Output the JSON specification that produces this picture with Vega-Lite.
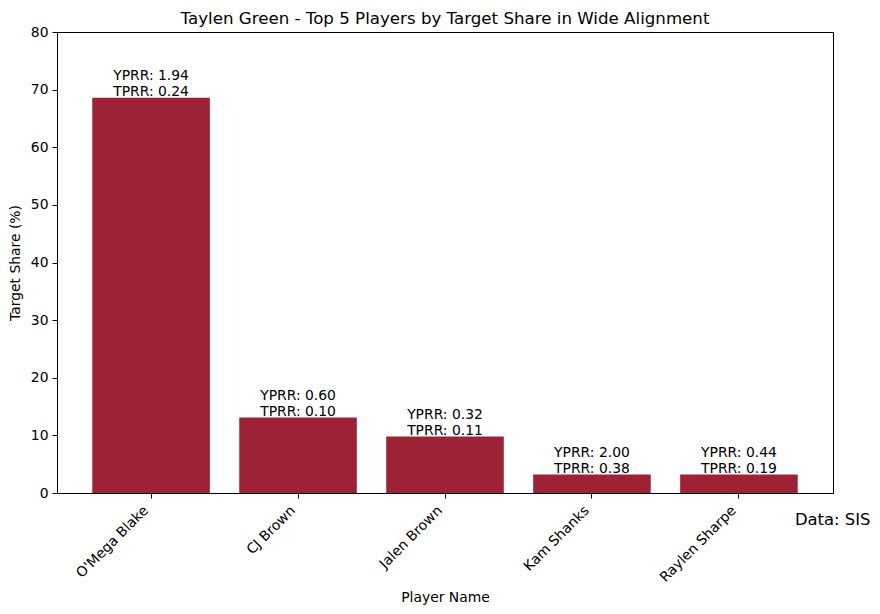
{
  "$schema": "https://vega.github.io/schema/vega-lite/v6.json",
  "autosize": {"type": "none"},
  "padding": {"left": 57, "top": 32, "right": 47, "bottom": 121},
  "width": 776,
  "height": 461,
  "background": "white",
  "title": {
    "text": "Taylen Green - Top 5 Players by Target Share in Wide Alignment",
    "font": "DejaVu Sans",
    "fontSize": 16.67,
    "fontWeight": "normal",
    "color": "black",
    "offset": -3
  },
  "data": {
    "values": [
      {"player": "O'Mega Blake", "share": 68.6, "label": ["YPRR: 1.94", "TPRR: 0.24"]},
      {"player": "CJ Brown", "share": 13.1, "label": ["YPRR: 0.60", "TPRR: 0.10"]},
      {"player": "Jalen Brown", "share": 9.8, "label": ["YPRR: 0.32", "TPRR: 0.11"]},
      {"player": "Kam Shanks", "share": 3.2, "label": ["YPRR: 2.00", "TPRR: 0.38"]},
      {"player": "Raylen Sharpe", "share": 3.2, "label": ["YPRR: 0.44", "TPRR: 0.19"]}
    ]
  },
  "encoding": {
    "x": {
      "field": "player",
      "type": "nominal",
      "sort": null,
      "title": "Player Name",
      "scale": {"paddingInner": 0.2, "paddingOuter": 0.24},
      "axis": {"labelAngle": -45, "labelAlign": "right", "labelBaseline": "bottom", "labelPadding": 15}
    },
    "y": {
      "field": "share",
      "type": "quantitative",
      "title": "Target Share (%)",
      "scale": {"domain": [0, 80], "nice": false},
      "axis": {"values": [0, 10, 20, 30, 40, 50, 60, 70, 80]}
    }
  },
  "layer": [
    {"mark": {"type": "bar", "color": "#9E2236"}},
    {
      "mark": {
        "type": "text",
        "baseline": "bottom",
        "align": "center",
        "font": "DejaVu Sans",
        "fontSize": 13.9,
        "lineHeight": 16,
        "color": "black",
        "dy": -15
      },
      "encoding": {"text": {"field": "label"}}
    },
    {
      "transform": [{"filter": "datum.player === 'Raylen Sharpe'"}],
      "mark": {
        "type": "text",
        "align": "left",
        "baseline": "middle",
        "font": "DejaVu Sans",
        "fontSize": 16.4,
        "color": "black",
        "dx": 56,
        "dy": 27
      },
      "encoding": {
        "y": {"datum": 0, "type": "quantitative"},
        "text": {"value": "Data: SIS"}
      }
    }
  ],
  "config": {
    "view": {"stroke": "black", "strokeWidth": 1},
    "font": "DejaVu Sans",
    "axis": {
      "grid": false,
      "domainColor": "black",
      "tickColor": "black",
      "tickSize": 5,
      "labelColor": "black",
      "labelFont": "DejaVu Sans",
      "labelFontSize": 13.9,
      "labelPadding": 4,
      "titleFont": "DejaVu Sans",
      "titleFontSize": 13.9,
      "titleFontWeight": "normal",
      "titleColor": "black"
    },
    "axisY": {"titlePadding": 8},
    "axisX": {"titlePadding": 6}
  }
}
